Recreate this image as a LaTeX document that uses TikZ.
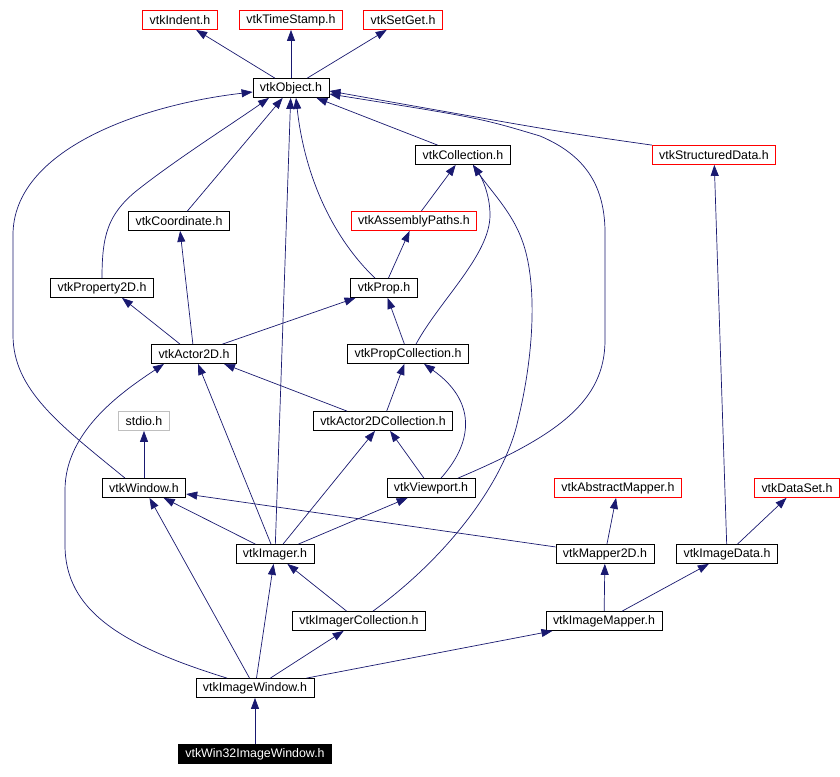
\documentclass[tikz,border=0pt]{standalone}
\usepackage{fontspec}
\setmainfont{Liberation Sans}
\usetikzlibrary{arrows.meta}
\definecolor{edgeblue}{HTML}{191970}
\definecolor{hdrgray}{HTML}{BFBFBF}

\begin{document}
\begin{tikzpicture}[x=1pt, y=-1pt, >={Triangle[length=11pt,width=8pt]},
  hdr/.style={draw=black, line width=0.8pt, inner xsep=7pt, inner ysep=0pt,
    minimum height=19pt, font=\fontsize{12.4}{14}\selectfont},
  redhdr/.style={hdr, draw=red},
  grayhdr/.style={hdr, draw=hdrgray},
  mainhdr/.style={hdr, fill=black, text=white},
  inc/.style={->, draw=edgeblue, line width=0.7pt}]
  \path[fill=white] (0,0) rectangle (840,776);

  \node[redhdr] (indent) at (180,20) {vtkIndent.h};
  \node[redhdr] (timestamp) at (291,20) {vtkTimeStamp.h};
  \node[redhdr] (setget) at (403,20) {vtkSetGet.h};
  \node[hdr] (object) at (291,88) {vtkObject.h};
  \node[hdr] (collection) at (463,155) {vtkCollection.h};
  \node[redhdr] (structdata) at (714,155) {vtkStructuredData.h};
  \node[hdr] (coordinate) at (179,221) {vtkCoordinate.h};
  \node[redhdr] (asmpaths) at (414,221) {vtkAssemblyPaths.h};
  \node[hdr] (property) at (102,288) {vtkProperty2D.h};
  \node[hdr] (prop) at (384,288) {vtkProp.h};
  \node[hdr] (actor) at (194,354) {vtkActor2D.h};
  \node[hdr] (propcoll) at (408,354) {vtkPropCollection.h};
  \node[grayhdr] (stdio) at (144,421) {stdio.h};
  \node[hdr] (actorcoll) at (383,421) {vtkActor2DCollection.h};
  \node[hdr] (window) at (144,488) {vtkWindow.h};
  \node[hdr] (viewport) at (431,488) {vtkViewport.h};
  \node[redhdr] (absmapper) at (618,488) {vtkAbstractMapper.h};
  \node[redhdr] (dataset) at (797,488) {vtkDataSet.h};
  \node[hdr] (imager) at (275,554) {vtkImager.h};
  \node[hdr] (mapper) at (605,554) {vtkMapper2D.h};
  \node[hdr] (imgdata) at (727,554) {vtkImageData.h};
  \node[hdr] (imgrcoll) at (359,621) {vtkImagerCollection.h};
  \node[hdr] (imgmapper) at (604,621) {vtkImageMapper.h};
  \node[hdr] (imgwindow) at (255,688) {vtkImageWindow.h};
  \node[mainhdr] (win32) at (255,754) {vtkWin32ImageWindow.h};

  % vtkObject.h and what it pulls in
  \draw[inc] (object) -- (indent);
  \draw[inc] (object) -- (timestamp);
  \draw[inc] (object) -- (setget);
  \draw[inc] (collection) -- (object);
  \draw[inc] (structdata.north west) .. controls (560,132) .. ([yshift=-3pt]object.east);
  \draw[inc] ([xshift=27pt]viewport.north) .. controls (560,435) and (605,400) .. (605,340)
    -- (605,230) .. controls (604,185) and (585,155) .. (540,136)
    .. controls (480,118) .. ([yshift=-6pt]object.east);
  \draw[inc] (coordinate) -- (object);
  \draw[inc] (property.north) .. controls (102,235) and (108,215) .. (135,192)
    .. controls (175,160) and (235,122) .. ([xshift=-22pt]object.south);
  \draw[inc] ([xshift=-19pt]window.north) .. controls (60,425) and (13,390) .. (13,335)
    -- (13,235) .. controls (13,150) and (140,105) .. ([yshift=-4pt]object.west);
  \draw[inc] ([xshift=-9pt]prop.north) .. controls (335,240) and (305,180) .. ([xshift=5pt]object.south);
  \draw[inc] (imager) -- (object);

  % collections
  \draw[inc] (asmpaths) -- (collection);
  \draw[inc] ([xshift=8pt]propcoll.north) .. controls (440,300) and (490,255) .. (490,215)
    .. controls (490,195) and (482,178) .. ([xshift=10pt]collection.south);
  \draw[inc] ([xshift=14pt]imgrcoll.north) .. controls (450,555) and (505,480) .. (518,420)
    .. controls (535,350) and (537,280) .. (522,240)
    .. controls (512,212) and (490,190) .. ([xshift=10pt]collection.south);

  % props and actors
  \draw[inc] (prop) -- (asmpaths);
  \draw[inc] (actor) -- (coordinate);
  \draw[inc] ([xshift=-14pt]actor.north) -- ([xshift=20pt]property.south);
  \draw[inc] (actor) -- (prop);
  \draw[inc] (propcoll) -- (prop);
  \draw[inc] ([xshift=-36pt]actorcoll.north) -- ([xshift=30pt]actor.south);
  \draw[inc] (actorcoll) -- (propcoll);
  \draw[inc] (imager) -- (actor);
  \draw[inc] ([xshift=-28pt]imgwindow.north) .. controls (120,645) and (65,610) .. (65,545)
    -- (65,490) .. controls (65,430) and (125,390) .. ([xshift=-30pt]actor.south);

  % windows, viewports, mappers
  \draw[inc] (window) -- (stdio);
  \draw[inc] (viewport) -- (actorcoll);
  \draw[inc] ([xshift=10pt]viewport.north) .. controls (475,440) and (475,400) .. ([xshift=16pt]propcoll.south);
  \draw[inc] (imager) -- (actorcoll);
  \draw[inc] (imager) -- (viewport);
  \draw[inc] (imager) -- (window);
  \draw[inc] (mapper) -- (window);
  \draw[inc] (imgwindow) -- (window);
  \draw[inc] (mapper) -- (absmapper);
  \draw[inc] (imgdata) -- (structdata);
  \draw[inc] (imgdata) -- (dataset);
  \draw[inc] (imgrcoll) -- (imager);
  \draw[inc] (imgwindow) -- (imager);
  \draw[inc] (imgmapper) -- (mapper);
  \draw[inc] (imgmapper) -- (imgdata);
  \draw[inc] (imgwindow) -- (imgrcoll);
  \draw[inc] (imgwindow) -- (imgmapper);
  \draw[inc] (win32) -- (imgwindow);
\end{tikzpicture}
\end{document}
